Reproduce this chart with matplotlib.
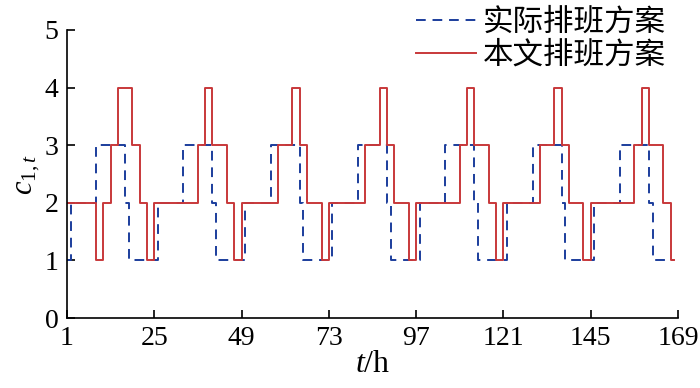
import numpy as np
import matplotlib
matplotlib.use("Agg")
import matplotlib.pyplot as plt

plt.rcParams['font.family'] = ['Liberation Serif', 'Noto Sans CJK SC', 'DejaVu Sans']
plt.rcParams['mathtext.fontset'] = 'custom'
plt.rcParams['mathtext.rm'] = 'Liberation Serif'
plt.rcParams['mathtext.it'] = 'Liberation Serif:italic'

# hourly values c_{1,t}, one list per day (t = 1..168)
actual_day = [1, 2, 2, 2, 2, 2, 2, 2, 3, 3, 3, 3, 3, 3, 3, 3, 2, 1, 1, 1, 1, 1, 1, 1]

ours_day1 = [2, 2, 2, 2, 2, 2, 2, 2, 1, 1, 2, 2, 3, 3, 4, 4, 4, 4, 3, 3, 2, 2, 1, 1]
ours_day_a = [2, 2, 2, 2, 2, 2, 2, 2, 2, 2, 2, 2, 3, 3, 4, 4, 3, 3, 3, 3, 2, 2, 1, 1]
ours_day_b = [2, 2, 2, 2, 2, 2, 2, 2, 2, 2, 3, 3, 3, 3, 4, 4, 3, 3, 2, 2, 2, 2, 1, 1]

actual = actual_day * 7
ours = ours_day1 + ours_day_a + ours_day_b + ours_day_b + ours_day_a + ours_day_b + ours_day_a
hours = np.arange(1, len(ours) + 1)

xticks = [1, 25, 49, 73, 97, 121, 145, 169]
labels = ['实际排班方案', '本文排班方案']

fig = plt.figure(figsize=(7, 3.88), dpi=100)
ax = fig.add_axes([0.0957, 0.1804, 0.8729, 0.7423])

ax.step(hours, actual, where='post', color='#1B3D9C', lw=1.4,
        linestyle=(0, (5, 3.5)), label=labels[0])
ax.step(hours, ours, where='post', color='#C8383A', lw=1.4, label=labels[1])

ax.set_xlim(1, 169)
ax.set_ylim(0, 5)
ax.set_xticks(xticks)
ax.set_yticks(range(6))
ax.tick_params(direction='in', length=6, width=1.2, labelsize=20, pad=6)
for side in ['top', 'right']:
    ax.spines[side].set_visible(False)
for side in ['left', 'bottom']:
    ax.spines[side].set_linewidth(1.2)

ax.set_xlabel('$t$/h', fontsize=23, labelpad=-1)
ax.set_ylabel('$c_{1,t}$', fontsize=22, labelpad=2)

leg = ax.legend(loc='upper right', bbox_to_anchor=(666 / 700, 0.982),
                bbox_transform=fig.transFigure, frameon=False,
                prop={'family': ['Noto Sans CJK SC'], 'size': 22},
                handlelength=1.96, handletextpad=0.23, labelspacing=0.05,
                borderaxespad=0, borderpad=0)

fig.savefig('out.png', dpi=100)
